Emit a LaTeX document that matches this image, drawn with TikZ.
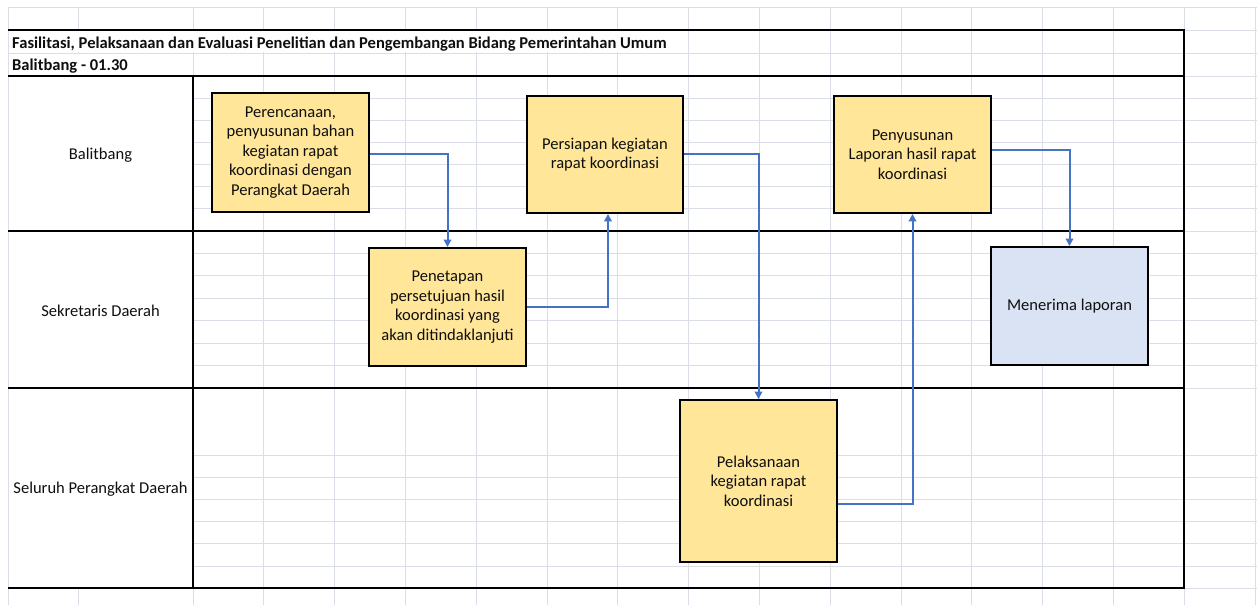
\documentclass[tikz,border=0pt]{standalone}
\usepackage{fontspec}
\setmainfont{Carlito}
\usetikzlibrary{arrows.meta}
\definecolor{gridc}{RGB}{218,222,230}
\definecolor{boxy}{RGB}{255,230,153}
\definecolor{boxb}{RGB}{218,227,243}
\definecolor{arrc}{RGB}{68,114,196}
\definecolor{txt}{RGB}{15,15,15}
\begin{document}
\begin{tikzpicture}[x=1bp,y=-1bp,
  grid/.style={draw=gridc,line width=0.9bp},
  lane/.style={draw=black,line width=1.9bp},
  procbox/.style={draw=black,line width=1.9bp,fill=boxy,align=center,inner sep=0pt,text=txt,font=\fontsize{16.6}{19.6}\selectfont},
  flow/.style={draw=arrc,line width=2bp,-{Triangle[length=7.5bp,width=7.5bp]}},
  lbl/.style={text=txt,font=\fontsize{16.6}{19.6}\selectfont,inner sep=0pt},
  ttl/.style={text=txt,font=\bfseries\fontsize{16.6}{19.6}\selectfont,inner sep=0pt,anchor=base west}]

\useasboundingbox (0,0) rectangle (1257,605);
\fill[white] (0,0) rectangle (1257,605);

% spreadsheet grid
\foreach \y in {7,30,53,76,98.1,120.3,142.4,164.6,186.7,208.9,231,253.4,275.9,298.3,320.7,343.1,365.6,388,455,477.2,499.4,521.6,543.8,566,588}
  \draw[grid] (8,\y) -- (1257,\y);
\foreach \x in {8,78}
  \draw[grid] (\x,7) -- (\x,605);
\foreach \k in {0,...,15}
  \draw[grid] ({193+70.8*\k},7) -- ({193+70.8*\k},605);

% merged / overflow areas hide gridlines
\fill[white] (8.6,76.6) rectangle (192,587.4);
\fill[white] (8.6,30.6) rectangle (675,52.4);
\fill[white] (8.6,53.6) rectangle (150,75.4);

% table borders
\draw[lane] (8,30) -| (1184,588) -- (8,588);
\draw[lane] (8,76) -- (1184,76);
\draw[lane] (8,231) -- (1184,231);
\draw[lane] (8,388) -- (1184,388);
\draw[lane] (193,76) -- (193,588);

% header texts
\node[ttl] (title) at (12,48.5) {Fasilitasi, Pelaksanaan dan Evaluasi Penelitian dan Pengembangan Bidang Pemerintahan Umum};
\node[ttl] (code) at (12,70.5) {Balitbang - 01.30};

% lane labels
\node[lbl] (l1) at (100.5,155) {Balitbang};
\node[lbl] (l2) at (100.5,310.5) {Sekretaris Daerah};
\node[lbl] (l3) at (100.5,489) {Seluruh Perangkat Daerah};

% process boxes
\node[procbox,minimum width=157bp,minimum height=119bp] (b1) at (290.5,152.5)
  {Perencanaan,\\penyusunan bahan\\kegiatan rapat\\koordinasi dengan\\Perangkat Daerah};
\node[procbox,minimum width=157bp,minimum height=118bp] (b2) at (447.5,307)
  {Penetapan\\persetujuan hasil\\koordinasi yang\\akan ditindaklanjuti};
\node[procbox,minimum width=156bp,minimum height=117bp] (b3) at (605,154.5)
  {Persiapan kegiatan\\rapat koordinasi};
\node[procbox,minimum width=157bp,minimum height=162bp] (b4) at (758.5,481)
  {Pelaksanaan\\kegiatan rapat\\koordinasi};
\node[procbox,minimum width=157bp,minimum height=117bp] (b5) at (912.5,154.5)
  {Penyusunan\\Laporan hasil rapat\\koordinasi};
\node[procbox,fill=boxb,minimum width=157bp,minimum height=118bp] (b6) at (1069.5,306)
  {Menerima laporan};

% connectors
\draw[flow] ([yshift=-1.5bp]b1.east) -| (b2.north);
\draw[flow] (b2.east) -| ([xshift=3bp]b3.south);
\draw[flow] (b3.east) -| (b4.north);
\draw[flow] ([yshift=-23bp]b4.east) -| (b5.south);
\draw[flow] ([yshift=4.5bp]b5.east) -| (b6.north);
\end{tikzpicture}
\end{document}
